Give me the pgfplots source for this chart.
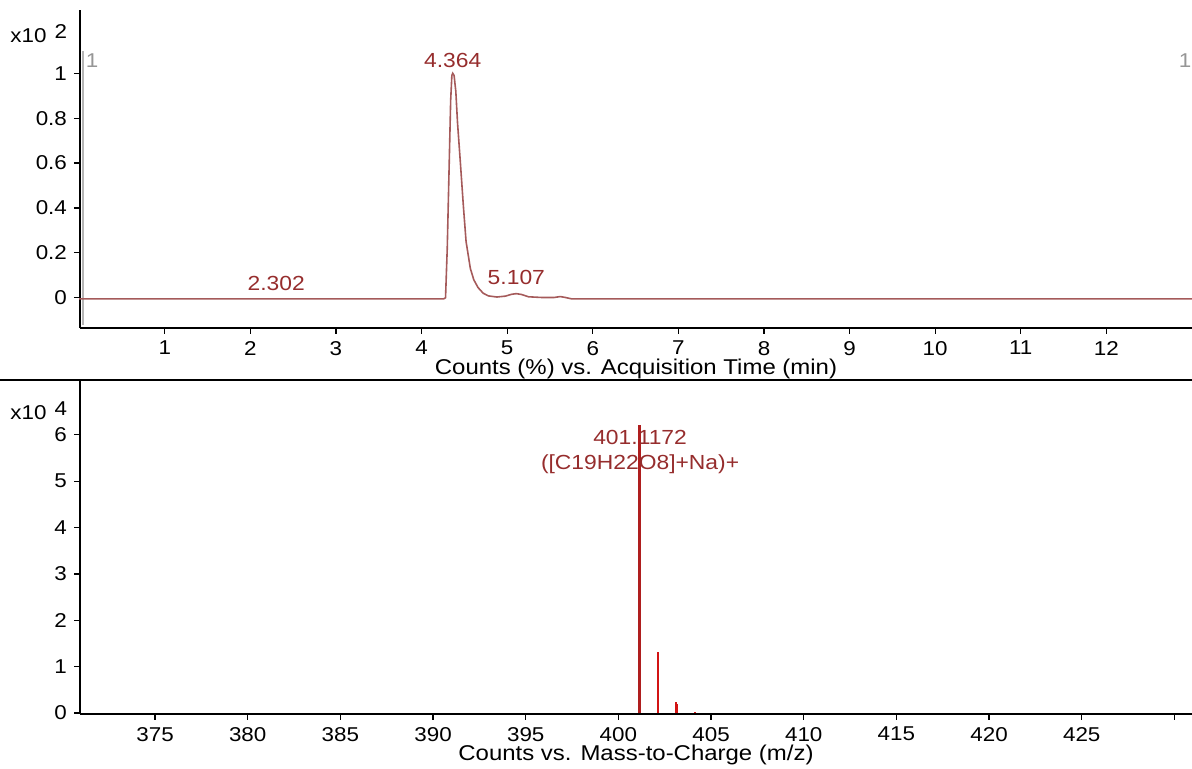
\documentclass[border=0pt]{standalone}
\usepackage{fontspec}
\setmainfont{Liberation Sans}[FakeStretch=1.12]
\usepackage{pgfplots}
\pgfplotsset{compat=1.18}

\definecolor{tracebrown}{RGB}{165,90,90}
\definecolor{peaklab}{RGB}{150,45,45}
\definecolor{specred}{RGB}{210,20,20}
\definecolor{specdark}{RGB}{175,30,30}
\definecolor{cursorgrey}{RGB}{150,150,150}

% chromatogram trace
\pgfplotstableread{
t      y
0.00  -0.005
2.30  -0.005
4.26  -0.005
4.28   0.000
4.30   0.22
4.32   0.55
4.34   0.88
4.354  0.99
4.364  1.00
4.38   0.99
4.40   0.92
4.42   0.78
4.45   0.62
4.49   0.40
4.52   0.25
4.57   0.13
4.61   0.08
4.66   0.045
4.72   0.020
4.78   0.008
4.88   0.003
4.98   0.007
5.05   0.015
5.107  0.018
5.17   0.014
5.25   0.004
5.40   0.001
5.55   0.001
5.62   0.005
5.68   0.001
5.75  -0.005
13.0  -0.005
}\trace

% mass spectrum sticks
\pgfplotstableread{
mz        I
401.1172  6.20
}\mainpeak
\pgfplotstableread{
mz        I
402.120   1.32
403.115   0.24
403.145   0.20
404.125   0.03
}\isotopes

\pgfplotsset{msaxis/.style={
  scale only axis, width=556pt,
  axis x line*=bottom, axis y line*=left,
  axis line style={-, black, line width=0.9pt},
  tick align=outside, major tick length=3pt,
  tick style={black, line width=0.6pt},
  tick label style={font=\fontsize{10}{12}\selectfont},
  label style={font=\fontsize{10.7}{12}\selectfont},
  /pgf/number format/assume math mode=true,
  xlabel style={at={(axis description cs:0.5,0)}, anchor=base, yshift=-23.5pt},
  clip=false}}

\begin{document}
\begin{tikzpicture}
\useasboundingbox (0,0) rectangle (596pt,384.5pt);

% chromatogram
\begin{axis}[msaxis, at={(40pt,220.5pt)}, anchor=south west, height=159pt,
  xmin=0.01, xmax=13, ymin=-0.135, ymax=1.282,
  xtick={1,...,12}, ytick={0,0.2,0.4,0.6,0.8,1},
  yticklabels={0,0.2,0.4,0.6,0.8,1},
  xlabel={Counts (\%) vs. Acquisition Time (min)}]
\addplot[cursorgrey!70, line width=1.2pt] coordinates {(0.047,-0.12) (0.047,1.10)};
\addplot[tracebrown, line width=0.8pt] table[x=t, y=y] {\trace};
\node[anchor=base, text=cursorgrey, font=\fontsize{10}{12}\selectfont] at (axis cs:0.15,1.024) {1};
\node[anchor=base, text=cursorgrey, font=\fontsize{10}{12}\selectfont] at (axis cs:12.92,1.024) {1};
\node[anchor=base, text=peaklab, font=\fontsize{10.2}{12}\selectfont] at (axis cs:4.364,1.024) {4.364};
\node[anchor=base, text=peaklab, font=\fontsize{10.2}{12}\selectfont] at (axis cs:2.302,0.03) {2.302};
\node[anchor=base, text=peaklab, font=\fontsize{10.2}{12}\selectfont] at (axis cs:5.107,0.057) {5.107};
\end{axis}

% mass spectrum
\begin{axis}[msaxis, at={(40pt,27.5pt)}, anchor=south west, height=167pt,
  xmin=370.95, xmax=430.95, ymin=-0.02, ymax=7.18,
  xtick={375,380,...,425}, extra x ticks={430}, extra x tick labels={},
  ytick={0,...,6},
  xlabel={Counts vs. Mass-to-Charge (m/z)}]
\addplot[ycomb, specdark, line width=1.4pt, mark=none] table[x=mz, y=I] {\mainpeak};
\addplot[ycomb, specred, line width=1.1pt, mark=none] table[x=mz, y=I] {\isotopes};
\node[anchor=base, text=peaklab, font=\fontsize{10.2}{12}\selectfont] at (axis cs:401.17,5.78) {401.1172};
\node[anchor=base, text=peaklab, font=\fontsize{10.2}{12}\selectfont] at (axis cs:401.17,5.24) {([C19H22O8]+Na)+};
\end{axis}

% scale factors and panel separator
\node[anchor=base west, inner sep=0, font=\fontsize{10}{12}\selectfont] at (5pt,363pt) {x10\hspace{4pt}\raisebox{2pt}{2}};
\node[anchor=base west, inner sep=0, font=\fontsize{10}{12}\selectfont] at (5pt,174.5pt) {x10\hspace{4pt}\raisebox{2pt}{4}};
\draw[line width=0.9pt] (0,194.5pt) -- (596pt,194.5pt);
\end{tikzpicture}
\end{document}
